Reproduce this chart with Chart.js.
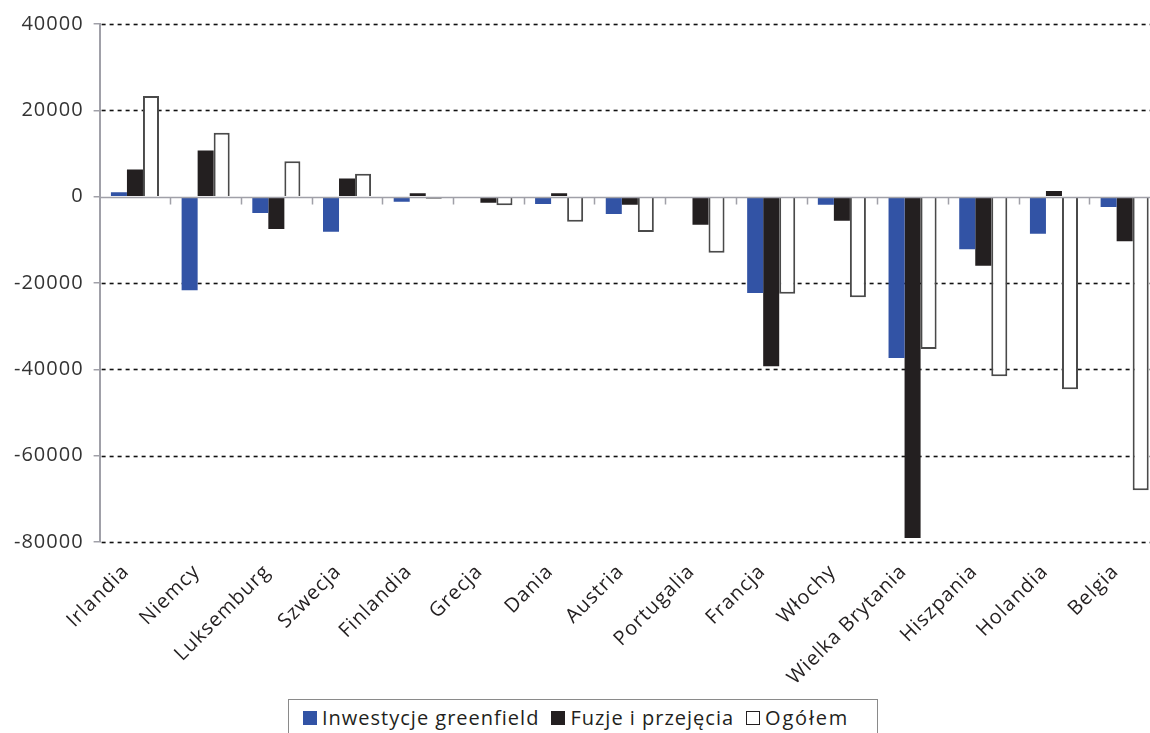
<!DOCTYPE html>
<html>
<head>
<meta charset="utf-8">
<script src="https://cdn.jsdelivr.net/npm/chart.js@4/dist/chart.umd.min.js"></script>
<style>
  html, body { margin: 0; padding: 0; background: #fff; overflow: hidden; }
  #wrap { position: relative; width: 1160px; height: 697px; }
  #legend {
    position: absolute; left: 288px; top: 699px; width: 590px; height: 40px;
    border: 1px solid #8a8a8a; box-sizing: border-box;
    font-family: "Open Sans", sans-serif; font-size: 20px; letter-spacing: 1px; color: #231f20;
    display: flex; align-items: flex-start; padding: 4px 0 0 14px;
  }
  #legend span.item { display: inline-flex; align-items: center; margin-right: 12px; }
  #legend span.item:last-child { letter-spacing: 1.8px; }
  #legend i { display: inline-block; width: 14px; height: 14px; margin-right: 5px; box-sizing: border-box; }
</style>
</head>
<body>
<div id="wrap"><canvas id="c" width="1160" height="697"></canvas></div>
<div id="legend"></div>
<script>
const countries = ['Irlandia', 'Niemcy', 'Luksemburg', 'Szwecja', 'Finlandia', 'Grecja', 'Dania',
  'Austria', 'Portugalia', 'Francja', 'Włochy', 'Wielka Brytania', 'Hiszpania', 'Holandia', 'Belgia'];

const greenfield = [1000, -21700, -3800, -8100, -1200, -100, -1700, -4000, -100, -22300, -1900, -37400, -12200, -8600, -2400];
const mergers = [6300, 10700, -7500, 4200, 800, -1400, 800, -1900, -6500, -39300, -5600, -79100, -16000, 1300, -10300];
const total = [23300, 14800, 8200, 5300, -500, -2000, -5800, -8200, -13000, -22500, -23300, -35300, -41600, -44600, -68000];

const yTicks = [40000, 20000, 0, -20000, -40000, -60000, -80000];

const seriesNames = ['Inwestycje greenfield', 'Fuzje i przejęcia', 'Ogółem'];

const FONT = '"Open Sans", sans-serif';

// wider letter spacing for all canvas text
const spacingPlugin = {
  id: 'spacing',
  beforeUpdate(chart) { chart.ctx.letterSpacing = '1px'; },
  beforeDraw(chart) { chart.ctx.letterSpacing = '1px'; }
};

// dashed grid lines, zero axis and category ticks
const gridPlugin = {
  id: 'grid',
  beforeDatasetsDraw(chart) {
    const { ctx, chartArea, scales: { y } } = chart;
    ctx.save();
    ctx.strokeStyle = '#111';
    ctx.lineWidth = 1.6;
    ctx.setLineDash([4, 4]);
    yTicks.forEach(v => {
      if (v === 0) return;
      const py = Math.round(y.getPixelForValue(v)) + 0.5;
      ctx.beginPath();
      ctx.moveTo(chartArea.left + 2, py);
      ctx.lineTo(chartArea.right, py);
      ctx.stroke();
    });
    ctx.restore();
  },
  afterDatasetsDraw(chart) {
    const { ctx, chartArea, scales: { x, y } } = chart;
    const y0 = Math.round(y.getPixelForValue(0)) + 0.5;
    const step = x.width / countries.length;
    ctx.save();
    ctx.strokeStyle = '#a0a0a8';
    ctx.lineWidth = 1.5;
    ctx.beginPath();
    ctx.moveTo(chartArea.left, y0);
    ctx.lineTo(chartArea.right, y0);
    for (let i = 1; i <= countries.length; i++) {
      const px = Math.round(x.left + i * step) + 0.5;
      ctx.moveTo(px, y0);
      ctx.lineTo(px, y0 + 7);
    }
    ctx.stroke();
    ctx.restore();
  }
};

new Chart(document.getElementById('c'), {
  type: 'bar',
  data: {
    labels: countries,
    datasets: [
      { label: seriesNames[0], data: greenfield, backgroundColor: '#3253a5', borderWidth: 0 },
      { label: seriesNames[1], data: mergers, backgroundColor: '#231f20', borderWidth: 0 },
      { label: seriesNames[2], data: total, backgroundColor: '#ffffff', borderColor: '#4a4a4a', borderWidth: 2 }
    ]
  },
  options: {
    responsive: false,
    animation: false,
    devicePixelRatio: 1,
    layout: { padding: { top: 24, left: 4, right: 0, bottom: 0 } },
    datasets: { bar: { categoryPercentage: 0.68, barPercentage: 1.0 } },
    plugins: { legend: { display: false }, tooltip: { enabled: false } },
    scales: {
      x: {
        grid: { display: false },
        border: { display: false },
        afterFit(scale) { scale.height = 155; },
        ticks: {
          maxRotation: 45, minRotation: 45, autoSkip: false, padding: 10, labelOffset: -9,
          color: '#231f20', font: { family: FONT, size: 20 }
        }
      },
      y: {
        min: -80000, max: 40000,
        afterBuildTicks(scale) { scale.ticks = yTicks.map(v => ({ value: v })); },
        grid: { drawOnChartArea: false, drawTicks: true, tickLength: 6, color: '#a0a0a8', lineWidth: 1.5 },
        border: { display: true, color: '#a0a0a8', width: 2 },
        ticks: {
          color: '#333', padding: 10, font: { family: FONT, size: 20 },
          callback: v => String(v)
        }
      }
    }
  },
  plugins: [spacingPlugin, gridPlugin]
});

const legendColors = [['#3253a5', '#3253a5'], ['#231f20', '#231f20'], ['#fff', '#231f20']];
const legend = document.getElementById('legend');
seriesNames.forEach((name, i) => {
  const item = document.createElement('span');
  item.className = 'item';
  const sw = document.createElement('i');
  sw.style.background = legendColors[i][0];
  sw.style.border = '1.5px solid ' + legendColors[i][1];
  item.appendChild(sw);
  item.appendChild(document.createTextNode(name));
  legend.appendChild(item);
});
</script>
</body>
</html>
